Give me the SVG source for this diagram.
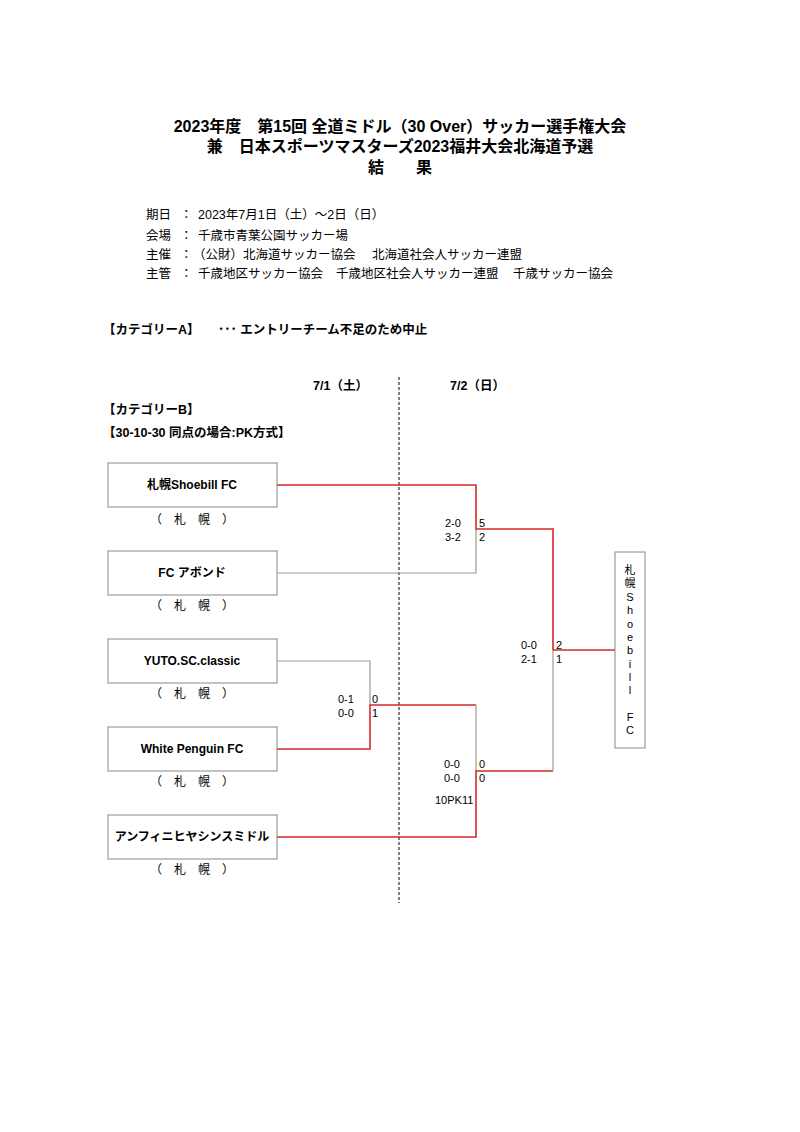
<svg xmlns="http://www.w3.org/2000/svg" width="800" height="1132" viewBox="0 0 800 1132">
<style>
text{font-family:"Liberation Sans","Noto Sans CJK JP",sans-serif;fill:#000}
.t{font-size:16px;font-weight:bold;text-anchor:middle}
.i{font-size:12.5px}
.b{font-size:12.5px;font-weight:bold}
.n{font-size:12px;font-weight:bold;text-anchor:middle}
.s{font-size:12px;text-anchor:middle}
.sc{font-size:11px}
.box{fill:#fff;stroke:#888;stroke-width:1}
.red{fill:none;stroke:#d42a2a;stroke-width:1.6}
.gray{fill:none;stroke:#999;stroke-width:1.2}
</style>
<rect width="800" height="1132" fill="#fff"/>
<g id="title">
<text class="t" x="400" y="132">2023年度　第15回 全道ミドル（30 Over）サッカー選手権大会</text>
<text class="t" x="400" y="152">兼　日本スポーツマスターズ2023福井大会北海道予選</text>
<text class="t" x="400" y="173">結　　果</text>
</g>
<g id="info">
<text class="i" x="146" y="219">期日</text><text class="i" x="180" y="219">：</text><text class="i" x="198" y="219">2023年7月1日（土）～2日（日）</text>
<text class="i" x="146" y="240">会場</text><text class="i" x="180" y="240">：</text><text class="i" x="198" y="240">千歳市青葉公園サッカー場</text>
<text class="i" x="146" y="259">主催</text><text class="i" x="180" y="259">：</text><text class="i" x="193" y="259">（公財）北海道サッカー協会</text><text class="i" x="372" y="259">北海道社会人サッカー連盟</text>
<text class="i" x="146" y="278">主管</text><text class="i" x="180" y="278">：</text><text class="i" x="198" y="278">千歳地区サッカー協会</text><text class="i" x="336" y="278">千歳地区社会人サッカー連盟</text><text class="i" x="513" y="278">千歳サッカー協会</text>
</g>
<g id="categoryA">
<text class="b" x="103" y="334">【カテゴリーA】</text>
<text class="b" x="218" y="334">･･･ エントリーチーム不足のため中止</text>
</g>
<g id="dates">
<text class="b" x="313" y="390">7/1（土）</text>
<text class="b" x="450" y="390">7/2（日）</text>
<line x1="399" y1="377" x2="399" y2="903" stroke="#000" stroke-width="1" stroke-dasharray="3,2"/>
</g>
<g id="categoryB">
<text class="b" x="103" y="414">【カテゴリーB】</text>
<text class="i" x="103" y="437" font-weight="bold">【30-10-30  同点の場合:PK方式】</text>
</g>
<g id="connectors">
<polyline class="gray" points="277,573 476,573 476,529"/>
<polyline class="red" points="277,485 476,485 476,529 553,529 553,650"/>
<polyline class="gray" points="277,661 370,661 370,705"/>
<polyline class="red" points="277,749 370,749 370,705 476,705"/>
<polyline class="gray" points="476,705 476,771"/>
<polyline class="red" points="277,837 476,837 476,771 553,771"/>
<polyline class="gray" points="553,771 553,650"/>
<polyline class="red" points="553,650 615,650"/>
</g>
<g id="scores">
<text class="sc" x="445" y="527">2-0</text><text class="sc" x="445" y="541">3-2</text>
<text class="sc" x="479" y="527">5</text><text class="sc" x="479" y="541">2</text>
<text class="sc" x="338" y="703">0-1</text><text class="sc" x="338" y="717">0-0</text>
<text class="sc" x="372" y="703">0</text><text class="sc" x="372" y="717">1</text>
<text class="sc" x="444" y="768">0-0</text><text class="sc" x="444" y="782">0-0</text>
<text class="sc" x="479" y="768">0</text><text class="sc" x="479" y="782">0</text>
<text class="sc" x="435" y="804">10PK11</text>
<text class="sc" x="521" y="649">0-0</text><text class="sc" x="521" y="663">2-1</text>
<text class="sc" x="556" y="649">2</text><text class="sc" x="556" y="663">1</text>
</g>
<g id="team1"><rect class="box" x="108" y="463" width="169" height="44"/><text class="n" x="192" y="489">札幌Shoebill FC</text><text class="s" x="192" y="524">（　札　幌　）</text></g>
<g id="team2"><rect class="box" x="108" y="551" width="169" height="44"/><text class="n" x="192" y="577">FC アボンド</text><text class="s" x="192" y="610">（　札　幌　）</text></g>
<g id="team3"><rect class="box" x="108" y="639" width="169" height="44"/><text class="n" x="192" y="665">YUTO.SC.classic</text><text class="s" x="192" y="698">（　札　幌　）</text></g>
<g id="team4"><rect class="box" x="108" y="727" width="169" height="44"/><text class="n" x="192" y="753">White Penguin FC</text><text class="s" x="192" y="786">（　札　幌　）</text></g>
<g id="team5"><rect class="box" x="108" y="815" width="169" height="44"/><text class="n" x="192" y="841">アンフィニヒヤシンスミドル</text><text class="s" x="192" y="874">（　札　幌　）</text></g>
<g id="winner"><rect class="box" x="615" y="552" width="30" height="196"/>
<g font-size="11" text-anchor="middle">
<text x="630" y="574">札</text><text x="630" y="587">幌</text><text x="630" y="601">S</text><text x="630" y="614">h</text><text x="630" y="628">o</text><text x="630" y="641">e</text><text x="630" y="654">b</text><text x="630" y="668">i</text><text x="630" y="681">l</text><text x="630" y="694">l</text><text x="630" y="721">F</text><text x="630" y="734">C</text>
</g></g>
</svg>
